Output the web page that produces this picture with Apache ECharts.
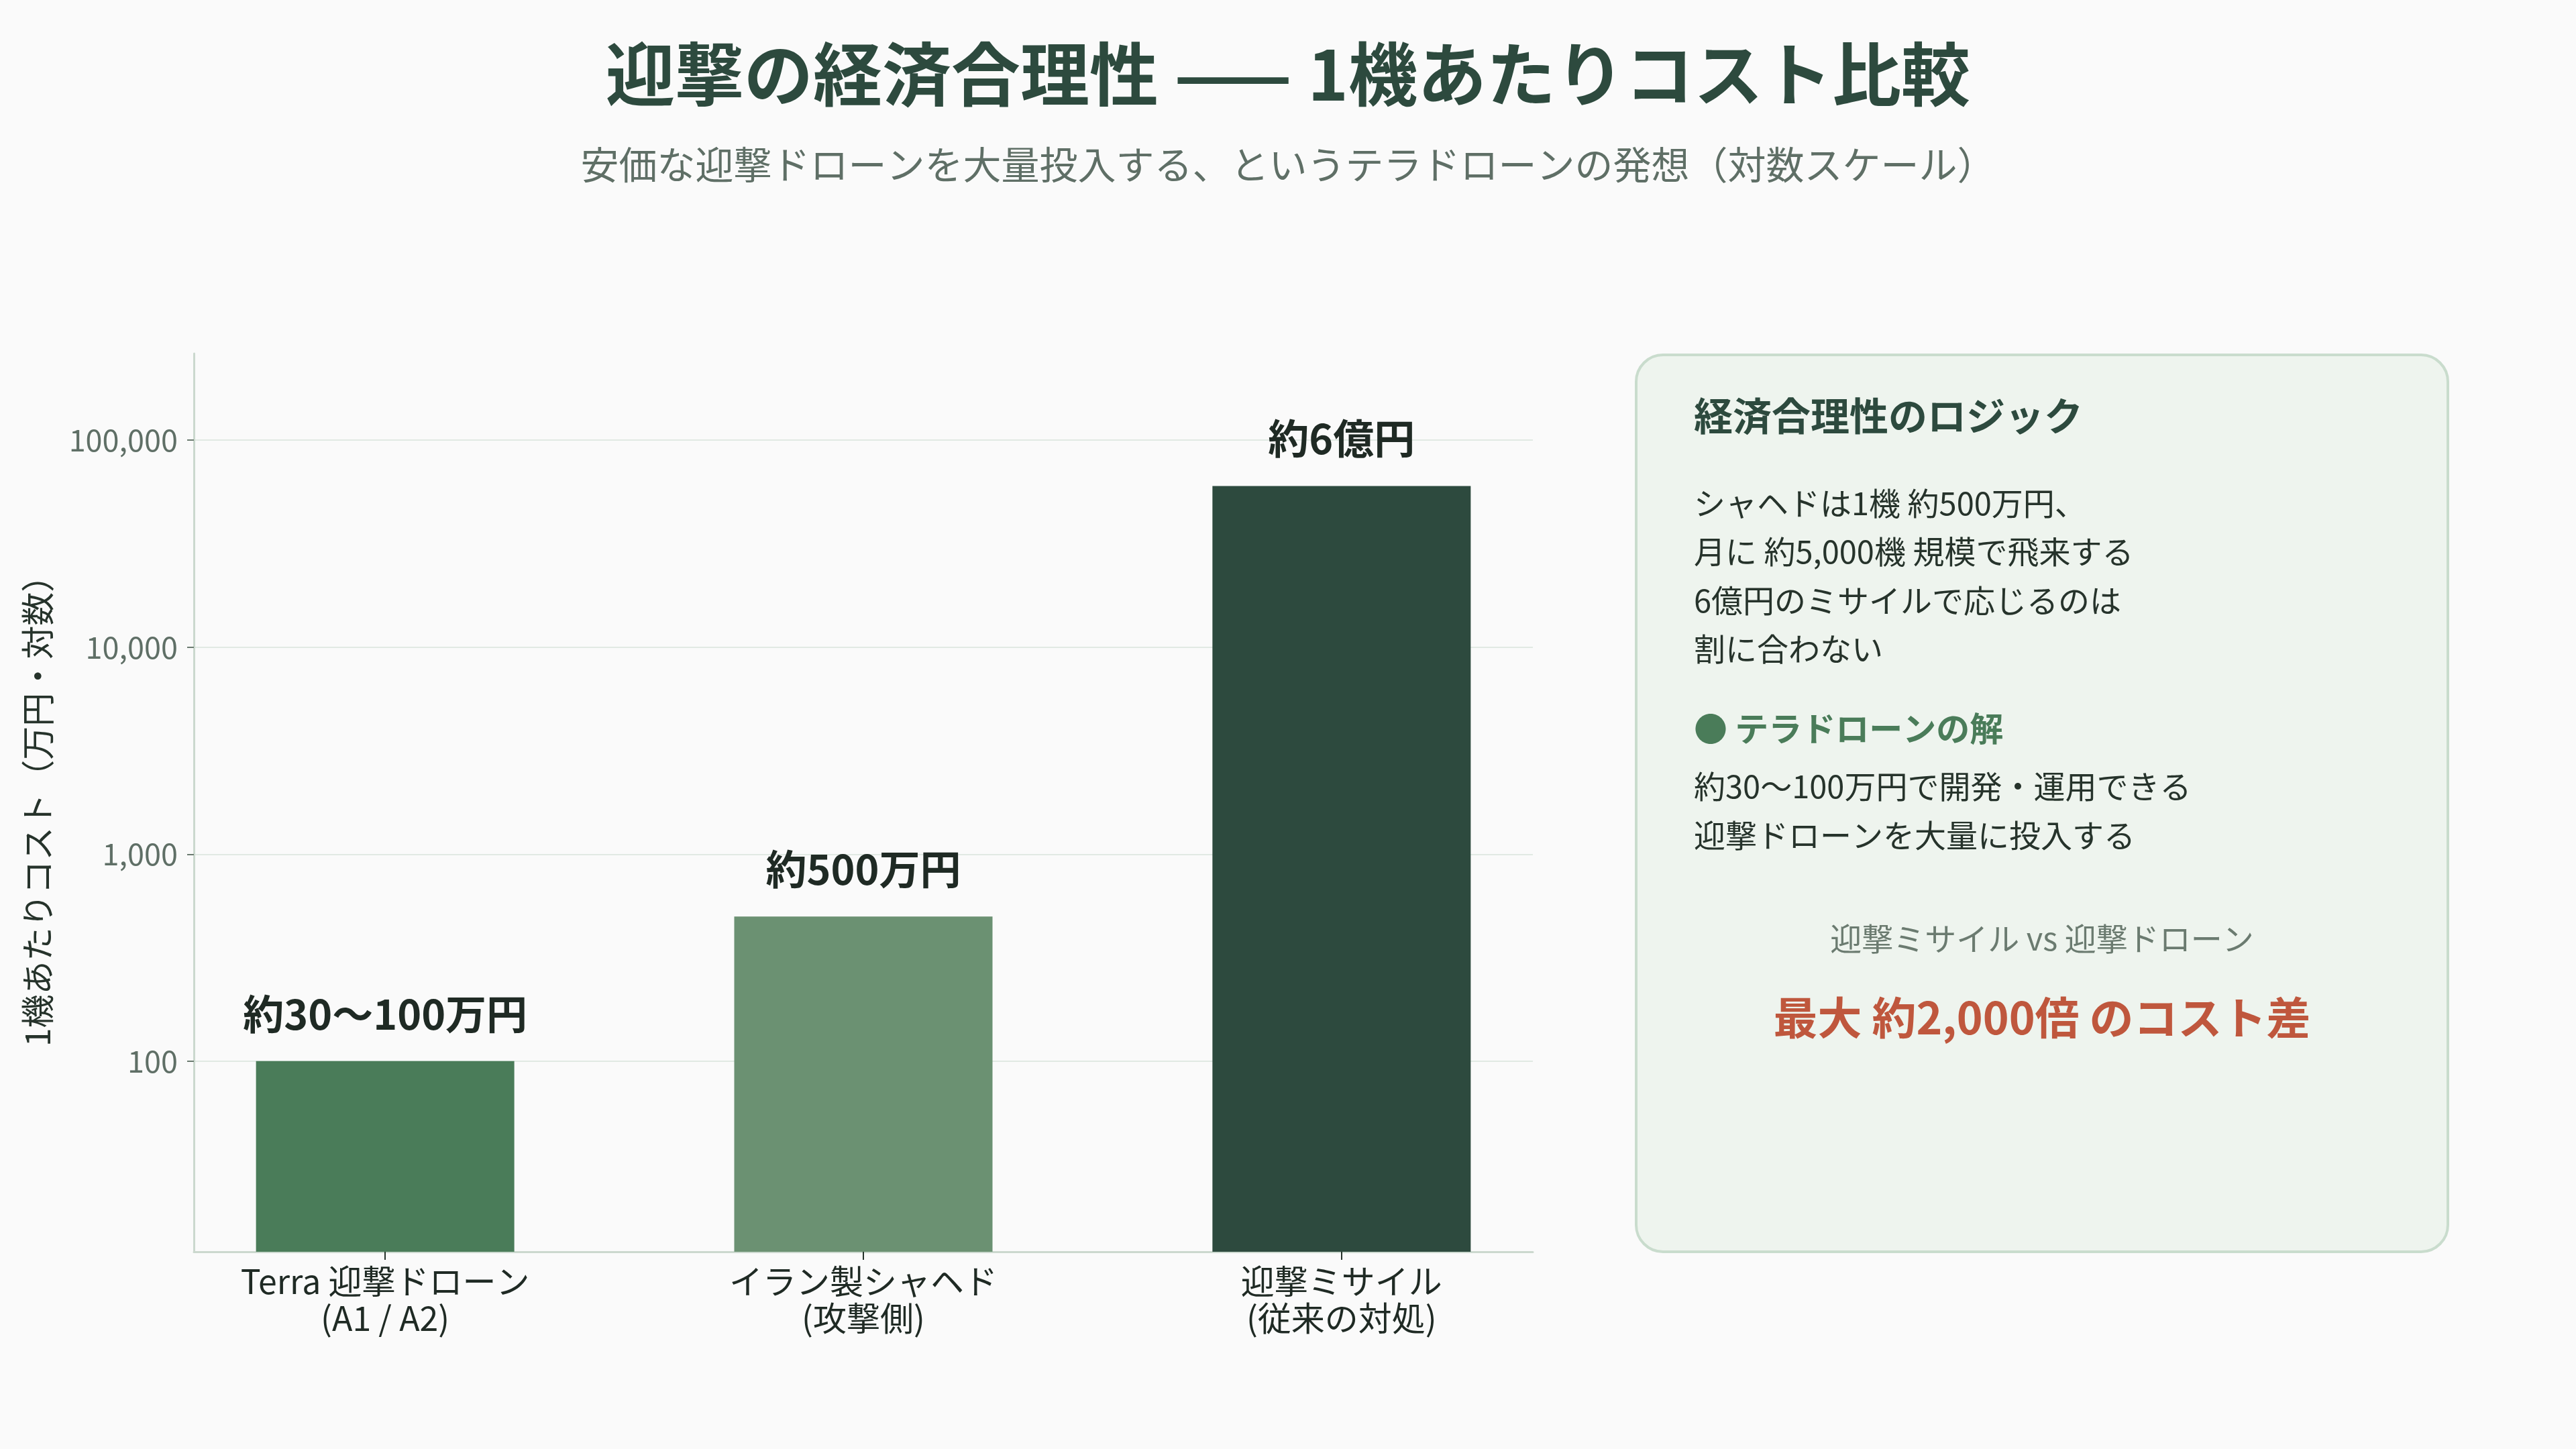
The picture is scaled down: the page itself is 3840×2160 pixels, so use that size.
<!DOCTYPE html>
<html>
<head>
<meta charset="utf-8">
<script src="https://cdn.jsdelivr.net/npm/echarts@6/dist/echarts.min.js"></script>
<style>
  html, body { margin: 0; padding: 0; background: #fafafa; }
  #main { width: 3840px; height: 2160px; }
</style>
</head>
<body>
<div id="main"></div>
<script>
// データ
const categories = ["Terra 迎撃ドローン\n(A1 / A2)", "イラン製シャヘド\n(攻撃側)", "迎撃ミサイル\n(従来の対処)"];
const categoryPos = [0, 1, 2];
const costs = [100, 500, 60000]; // 万円
const costLabels = ["約30〜100万円", "約500万円", "約6億円"];
const barColors = ["#4a7c59", "#6b9172", "#2d4a3e"];
const yTicks = [100, 1000, 10000, 100000];

// 右側パネルのテキスト
const panelTitle = "経済合理性のロジック";
const panelBody = ["シャヘドは1機 約500万円、", "月に 約5,000機 規模で飛来する", "6億円のミサイルで応じるのは", "割に合わない"];
const panelSolutionHead = "● テラドローンの解";
const panelSolution = ["約30〜100万円で開発・運用できる", "迎撃ドローンを大量に投入する"];
const panelCompare = "迎撃ミサイル vs 迎撃ドローン";
const panelResult = "最大 約2,000倍 のコスト差";

const FONT = '"Noto Sans CJK JP", "Noto Sans", sans-serif';

const chart = echarts.init(document.getElementById("main"), null, { renderer: "canvas" });

// パネル用 graphic
const panelX = 2439, panelY = 529, panelW = 1210, panelH = 1337;
const textLeft = 2525;
const graphics = [
  {
    type: "rect",
    shape: { x: panelX, y: panelY, width: panelW, height: panelH, r: 40 },
    style: { fill: "#eef4ee", stroke: "#c9dccd", lineWidth: 4 },
  },
  {
    type: "text",
    x: textLeft, y: 620,
    style: { text: panelTitle, font: "bold 58px " + FONT, fill: "#2d4a3e", textVerticalAlign: "middle" },
  },
];
panelBody.forEach((line, i) => {
  graphics.push({
    type: "text",
    x: textLeft, y: 750 + i * 72.5,
    style: { text: line, font: "47px " + FONT, fill: "#26332b", textVerticalAlign: "middle" },
  });
});
graphics.push({
  type: "text",
  x: textLeft, y: 1086,
  style: { text: panelSolutionHead, font: "bold 50px " + FONT, fill: "#4a7c59", textVerticalAlign: "middle" },
});
panelSolution.forEach((line, i) => {
  graphics.push({
    type: "text",
    x: textLeft, y: 1172 + i * 73,
    style: { text: line, font: "47px " + FONT, fill: "#26332b", textVerticalAlign: "middle" },
  });
});
graphics.push({
  type: "text",
  x: panelX + panelW / 2, y: 1399,
  style: { text: panelCompare, font: "47px " + FONT, fill: "#6b7b70", textAlign: "center", textVerticalAlign: "middle" },
});
graphics.push({
  type: "text",
  x: panelX + panelW / 2, y: 1517,
  style: { text: panelResult, font: "bold 66px " + FONT, fill: "#bf573d", textAlign: "center", textVerticalAlign: "middle" },
});

const option = {
  backgroundColor: "#fafafa",
  animation: false,
  title: [
    {
      text: "迎撃の経済合理性 —— 1機あたりコスト比較",
      left: "center",
      top: 54,
      textStyle: { fontFamily: FONT, fontSize: 103, fontWeight: "bold", color: "#2d4a3e" },
    },
    {
      text: "安価な迎撃ドローンを大量投入する、というテラドローンの発想（対数スケール）",
      left: "center",
      top: 212,
      textStyle: { fontFamily: FONT, fontSize: 57, fontWeight: "normal", color: "#5f6f66" },
    },
  ],
  grid: { left: 289, right: 1555, top: 527, bottom: 294, containLabel: false },
  xAxis: {
    type: "value",
    min: -0.4,
    max: 2.4,
    splitLine: { show: false },
    axisLine: { show: true, onZero: false, lineStyle: { color: "#cbd8ce", width: 3 } },
    axisTick: { show: true, customValues: categoryPos, length: 12, lineStyle: { color: "#26332b", width: 2 } },
    axisLabel: {
      customValues: categoryPos,
      formatter: (v) => categories[Math.round(v)] || "",
      fontFamily: FONT,
      fontSize: 50,
      lineHeight: 55,
      color: "#1f2a24",
      margin: 16,
    },
  },
  yAxis: {
    type: "log",
    logBase: 10,
    min: 12,
    max: 262000,
    name: "1機あたりコスト（万円・対数）",
    nameLocation: "middle",
    nameGap: 208,
    nameTextStyle: { fontFamily: FONT, fontSize: 50, color: "#26332b" },
    axisLine: { show: true, onZero: false, lineStyle: { color: "#cbd8ce", width: 3 } },
    axisTick: { show: true, customValues: yTicks, length: 10, lineStyle: { color: "#6b7b70", width: 2 } },
    axisLabel: {
      customValues: yTicks,
      formatter: (v) => Math.round(v).toLocaleString("en-US"),
      fontFamily: FONT,
      fontSize: 45,
      color: "#5f6f66",
      margin: 24,
    },
    splitLine: { show: true, lineStyle: { color: "#e1e9e3", width: 2 } },
  },
  series: [
    {
      type: "bar",
      barWidth: 385,
      data: costs.map((c, i) => ({
        value: [categoryPos[i], c],
        itemStyle: { color: barColors[i] },
      })),
      label: {
        show: true,
        position: "top",
        distance: 40,
        formatter: (p) => costLabels[p.dataIndex],
        fontFamily: FONT,
        fontSize: 61,
        fontWeight: "bold",
        color: "#1f2a24",
      },
    },
  ],
  graphic: graphics,
};

chart.setOption(option);
</script>
</body>
</html>
